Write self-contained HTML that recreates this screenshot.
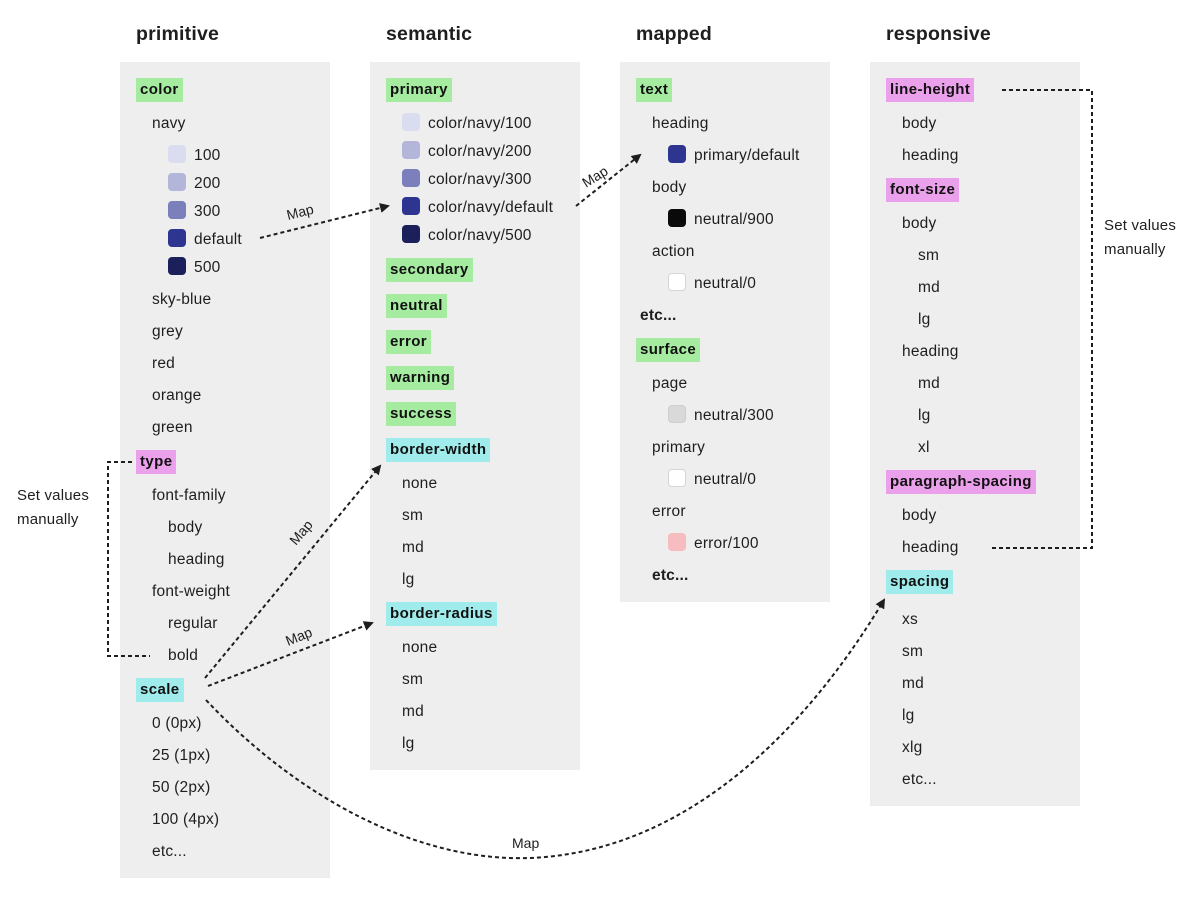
<!DOCTYPE html>
<html><head><meta charset="utf-8"><style>
body{margin:0;width:1200px;height:898px;background:#fff;position:relative;font-family:"Liberation Sans",sans-serif;color:#1e1e1e;overflow:hidden}
.p{position:absolute;background:#eeeeee}
.h{position:absolute;top:22px;font-size:19.5px;font-weight:bold;line-height:24px;letter-spacing:0.2px}
.t{position:absolute;font-size:15.5px;line-height:20px;white-space:nowrap;margin-top:2px;letter-spacing:0.2px}
.g{position:absolute;font-size:15px;font-weight:bold;line-height:24px;padding:0 4px;height:24px;white-space:nowrap;letter-spacing:0.4px;color:#111}
.gr{background:#a6eca0}.pk{background:#eba0eb}.cy{background:#a0ecec}
.s{position:absolute;width:18px;height:18px;border-radius:4px;box-sizing:border-box}
svg{position:absolute;left:0;top:0}
</style></head><body>
<div class="p" style="left:120px;top:62px;width:210px;height:816px"></div>
<div class="p" style="left:370px;top:62px;width:210px;height:708px"></div>
<div class="p" style="left:620px;top:62px;width:210px;height:540px"></div>
<div class="p" style="left:870px;top:62px;width:210px;height:744px"></div>

<div class="h" style="left:136px">primitive</div>
<div class="h" style="left:386px">semantic</div>
<div class="h" style="left:636px">mapped</div>
<div class="h" style="left:886px">responsive</div>

<!-- primitive -->
<div class="g gr" style="left:136px;top:78px">color</div>
<div class="t" style="left:152px;top:112px">navy</div>
<div class="s" style="left:168px;top:145px;background:#dadcef"></div><div class="t" style="left:194px;top:144px">100</div>
<div class="s" style="left:168px;top:173px;background:#b3b6d9"></div><div class="t" style="left:194px;top:172px">200</div>
<div class="s" style="left:168px;top:201px;background:#7b80bc"></div><div class="t" style="left:194px;top:200px">300</div>
<div class="s" style="left:168px;top:229px;background:#2e3590"></div><div class="t" style="left:194px;top:228px">default</div>
<div class="s" style="left:168px;top:257px;background:#1b1f5a"></div><div class="t" style="left:194px;top:256px">500</div>
<div class="t" style="left:152px;top:288px">sky-blue</div>
<div class="t" style="left:152px;top:320px">grey</div>
<div class="t" style="left:152px;top:352px">red</div>
<div class="t" style="left:152px;top:384px">orange</div>
<div class="t" style="left:152px;top:416px">green</div>
<div class="g pk" style="left:136px;top:450px">type</div>
<div class="t" style="left:152px;top:484px">font-family</div>
<div class="t" style="left:168px;top:516px">body</div>
<div class="t" style="left:168px;top:548px">heading</div>
<div class="t" style="left:152px;top:580px">font-weight</div>
<div class="t" style="left:168px;top:612px">regular</div>
<div class="t" style="left:168px;top:644px">bold</div>
<div class="g cy" style="left:136px;top:678px">scale</div>
<div class="t" style="left:152px;top:712px">0 (0px)</div>
<div class="t" style="left:152px;top:744px">25 (1px)</div>
<div class="t" style="left:152px;top:776px">50 (2px)</div>
<div class="t" style="left:152px;top:808px">100 (4px)</div>
<div class="t" style="left:152px;top:840px">etc...</div>

<!-- semantic -->
<div class="g gr" style="left:386px;top:78px">primary</div>
<div class="s" style="left:402px;top:113px;background:#dadcef"></div><div class="t" style="left:428px;top:112px">color/navy/100</div>
<div class="s" style="left:402px;top:141px;background:#b3b6d9"></div><div class="t" style="left:428px;top:140px">color/navy/200</div>
<div class="s" style="left:402px;top:169px;background:#7b80bc"></div><div class="t" style="left:428px;top:168px">color/navy/300</div>
<div class="s" style="left:402px;top:197px;background:#2e3590"></div><div class="t" style="left:428px;top:196px">color/navy/default</div>
<div class="s" style="left:402px;top:225px;background:#1b1f5a"></div><div class="t" style="left:428px;top:224px">color/navy/500</div>
<div class="g gr" style="left:386px;top:258px">secondary</div>
<div class="g gr" style="left:386px;top:294px">neutral</div>
<div class="g gr" style="left:386px;top:330px">error</div>
<div class="g gr" style="left:386px;top:366px">warning</div>
<div class="g gr" style="left:386px;top:402px">success</div>
<div class="g cy" style="left:386px;top:438px">border-width</div>
<div class="t" style="left:402px;top:472px">none</div>
<div class="t" style="left:402px;top:504px">sm</div>
<div class="t" style="left:402px;top:536px">md</div>
<div class="t" style="left:402px;top:568px">lg</div>
<div class="g cy" style="left:386px;top:602px">border-radius</div>
<div class="t" style="left:402px;top:636px">none</div>
<div class="t" style="left:402px;top:668px">sm</div>
<div class="t" style="left:402px;top:700px">md</div>
<div class="t" style="left:402px;top:732px">lg</div>

<!-- mapped -->
<div class="g gr" style="left:636px;top:78px">text</div>
<div class="t" style="left:652px;top:112px">heading</div>
<div class="s" style="left:668px;top:145px;background:#2e3590"></div><div class="t" style="left:694px;top:144px">primary/default</div>
<div class="t" style="left:652px;top:176px">body</div>
<div class="s" style="left:668px;top:209px;background:#0a0a0a"></div><div class="t" style="left:694px;top:208px">neutral/900</div>
<div class="t" style="left:652px;top:240px">action</div>
<div class="s" style="left:668px;top:273px;background:#fff;border:1px solid #d6d6d6"></div><div class="t" style="left:694px;top:272px">neutral/0</div>
<div class="t" style="left:640px;top:304px;font-weight:bold">etc...</div>
<div class="g gr" style="left:636px;top:338px">surface</div>
<div class="t" style="left:652px;top:372px">page</div>
<div class="s" style="left:668px;top:405px;background:#d9d9d9;border:1px solid #cfcfcf"></div><div class="t" style="left:694px;top:404px">neutral/300</div>
<div class="t" style="left:652px;top:436px">primary</div>
<div class="s" style="left:668px;top:469px;background:#fff;border:1px solid #d6d6d6"></div><div class="t" style="left:694px;top:468px">neutral/0</div>
<div class="t" style="left:652px;top:500px">error</div>
<div class="s" style="left:668px;top:533px;background:#f7bcbf"></div><div class="t" style="left:694px;top:532px">error/100</div>
<div class="t" style="left:652px;top:564px;font-weight:bold">etc...</div>

<!-- responsive -->
<div class="g pk" style="left:886px;top:78px">line-height</div>
<div class="t" style="left:902px;top:112px">body</div>
<div class="t" style="left:902px;top:144px">heading</div>
<div class="g pk" style="left:886px;top:178px">font-size</div>
<div class="t" style="left:902px;top:212px">body</div>
<div class="t" style="left:918px;top:244px">sm</div>
<div class="t" style="left:918px;top:276px">md</div>
<div class="t" style="left:918px;top:308px">lg</div>
<div class="t" style="left:902px;top:340px">heading</div>
<div class="t" style="left:918px;top:372px">md</div>
<div class="t" style="left:918px;top:404px">lg</div>
<div class="t" style="left:918px;top:436px">xl</div>
<div class="g pk" style="left:886px;top:470px">paragraph-spacing</div>
<div class="t" style="left:902px;top:504px">body</div>
<div class="t" style="left:902px;top:536px">heading</div>
<div class="g cy" style="left:886px;top:570px">spacing</div>
<div class="t" style="left:902px;top:608px">xs</div>
<div class="t" style="left:902px;top:640px">sm</div>
<div class="t" style="left:902px;top:672px">md</div>
<div class="t" style="left:902px;top:704px">lg</div>
<div class="t" style="left:902px;top:736px">xlg</div>
<div class="t" style="left:902px;top:768px">etc...</div>

<div class="t" style="left:17px;top:484px;font-size:15px">Set values</div>
<div class="t" style="left:17px;top:508px;font-size:15px">manually</div>
<div class="t" style="left:1104px;top:214px;font-size:15px">Set values</div>
<div class="t" style="left:1104px;top:238px;font-size:15px">manually</div>

<svg width="1200" height="898" viewBox="0 0 1200 898">
<defs><marker id="a" markerWidth="10" markerHeight="10" refX="8" refY="5" orient="auto" markerUnits="userSpaceOnUse"><path d="M0,0 L10,5 L0,10 z" fill="#1e1e1e"/></marker></defs>
<g fill="none" stroke="#1e1e1e" stroke-width="2" stroke-dasharray="4 3">
<path d="M260,238 L388,206" marker-end="url(#a)"/>
<path d="M576,206 L640,155" marker-end="url(#a)"/>
<path d="M132,462 L108,462 L108,656 L150,656"/>
<path d="M1002,90 L1092,90 L1092,548 L992,548"/>
<path d="M205,678 L380,466" marker-end="url(#a)"/>
<path d="M208,686 L372,623" marker-end="url(#a)"/>
<path d="M206,700 C300,800 420,862 530,858 C680,852 800,740 884,600" marker-end="url(#a)"/>
</g>
<g font-family="Liberation Sans,sans-serif" font-size="14" fill="#1e1e1e">
<text x="288" y="220" transform="rotate(-14 288 220)">Map</text>
<text x="586" y="188" transform="rotate(-32 586 188)">Map</text>
<text x="296" y="546" transform="rotate(-50 296 546)">Map</text>
<text x="288" y="646" transform="rotate(-22 288 646)">Map</text>
<text x="512" y="848">Map</text>
</g>
</svg>
</body></html>
